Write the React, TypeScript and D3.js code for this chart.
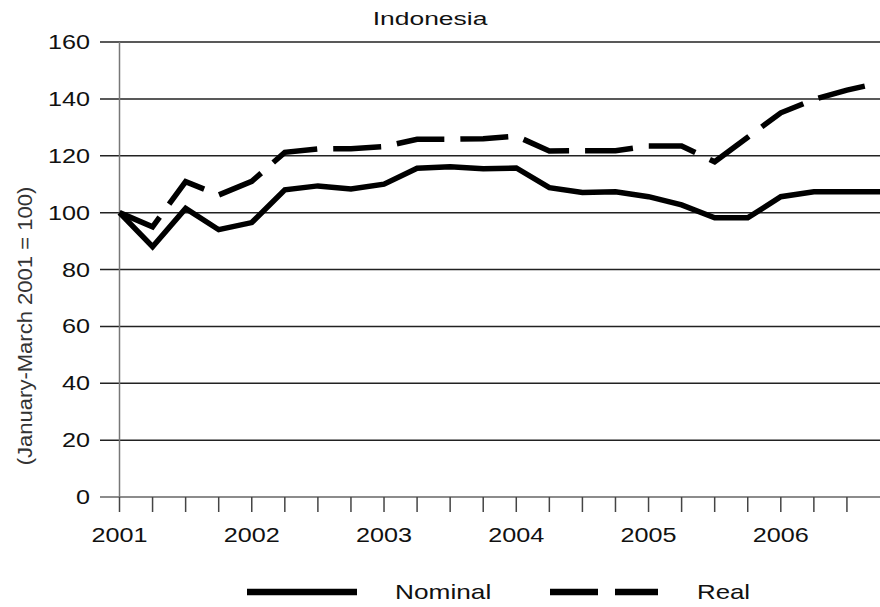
import React from "react";
import * as d3 from "d3";

const title = "Indonesia";
const yLabel = "(January-March 2001 = 100)";
const yTicks = [0, 20, 40, 60, 80, 100, 120, 140, 160];
const yearLabels = ["2001", "2002", "2003", "2004", "2005", "2006"];
const quarterCount = 24;
const nominal = [100, 88, 101.5, 94, 96.5, 108, 109.4, 108.3, 110, 115.6, 116.1, 115.4, 115.7, 108.8, 107.1, 107.3, 105.6, 102.7, 98.2, 98.2, 105.6, 107.3, 107.3, 107.3];
const real = [100, 95, 110.9, 106.2, 111, 121.2, 122.4, 122.5, 123.2, 125.8, 125.8, 126, 126.9, 121.7, 121.8, 121.8, 123.4, 123.4, 117.9, 126.5, 135.1, 139.8, 143.1, 145.7];
const seriesNames = ["Nominal", "Real"];

const W = 880, H = 607;
const FONT = "'Liberation Sans', Arial, Helvetica, sans-serif";

function SText({ x, y, sx = 1.22, size = 21, anchor = "middle", children, fill = "#111", rotate = 0 }: any) {
  return (
    <text
      transform={`translate(${x},${y}) rotate(${rotate}) scale(${sx},1)`}
      textAnchor={anchor}
      fontFamily={FONT}
      fontSize={size}
      fill={fill}
    >
      {children}
    </text>
  );
}

export default function App() {
  const x = d3.scaleLinear().domain([0, quarterCount - 1]).range([119.5, 880]);
  const y = d3.scaleLinear().domain([0, 160]).range([497, 42]);
  const line = d3.line<number>().x((_, i) => x(i)).y((d) => y(d));
  const tickIdx = d3.range(0, quarterCount - 1);

  return (
    <svg width={W} height={H} style={{ position: "absolute", left: 0, top: 0, background: "#fff" }}>
      <SText x={430} y={25} size={18.5} sx={1.43}>{title}</SText>
      <SText x={32} y={326} size={21} sx={1.05} rotate={-90} fill="#333">{yLabel}</SText>

      {yTicks.map((t) => (
        <g key={t}>
          <line x1={100} x2={880} y1={y(t)} y2={y(t)} stroke={t === 0 ? "#666" : "#222"} strokeWidth={1.5} />
          <SText x={90} y={y(t) + 7} anchor="end" sx={1.2}>{String(t)}</SText>
        </g>
      ))}
      <line x1={119.5} x2={119.5} y1={42} y2={497} stroke="#777" strokeWidth={1.5} />
      {tickIdx.map((i) => (
        <line key={i} x1={x(i)} x2={x(i)} y1={497} y2={512} stroke="#444" strokeWidth={1.5} />
      ))}
      {yearLabels.map((lab, k) => (
        <SText key={lab} x={x(k * 4)} y={542} sx={1.2}>{lab}</SText>
      ))}

      <path d={line(nominal) || ""} fill="none" stroke="#000" strokeWidth={5.5} />
      <path d={line(real) || ""} fill="none" stroke="#000" strokeWidth={5.5} strokeDasharray="48,16" />

      <line x1={247} x2={357} y1={592} y2={592} stroke="#000" strokeWidth={6.5} />
      <SText x={395} y={599} anchor="start" sx={1.25}>{seriesNames[0]}</SText>
      <line x1={550} x2={658} y1={592} y2={592} stroke="#000" strokeWidth={6.5} strokeDasharray="48,17" />
      <SText x={697} y={599} anchor="start" sx={1.23}>{seriesNames[1]}</SText>
    </svg>
  );
}
